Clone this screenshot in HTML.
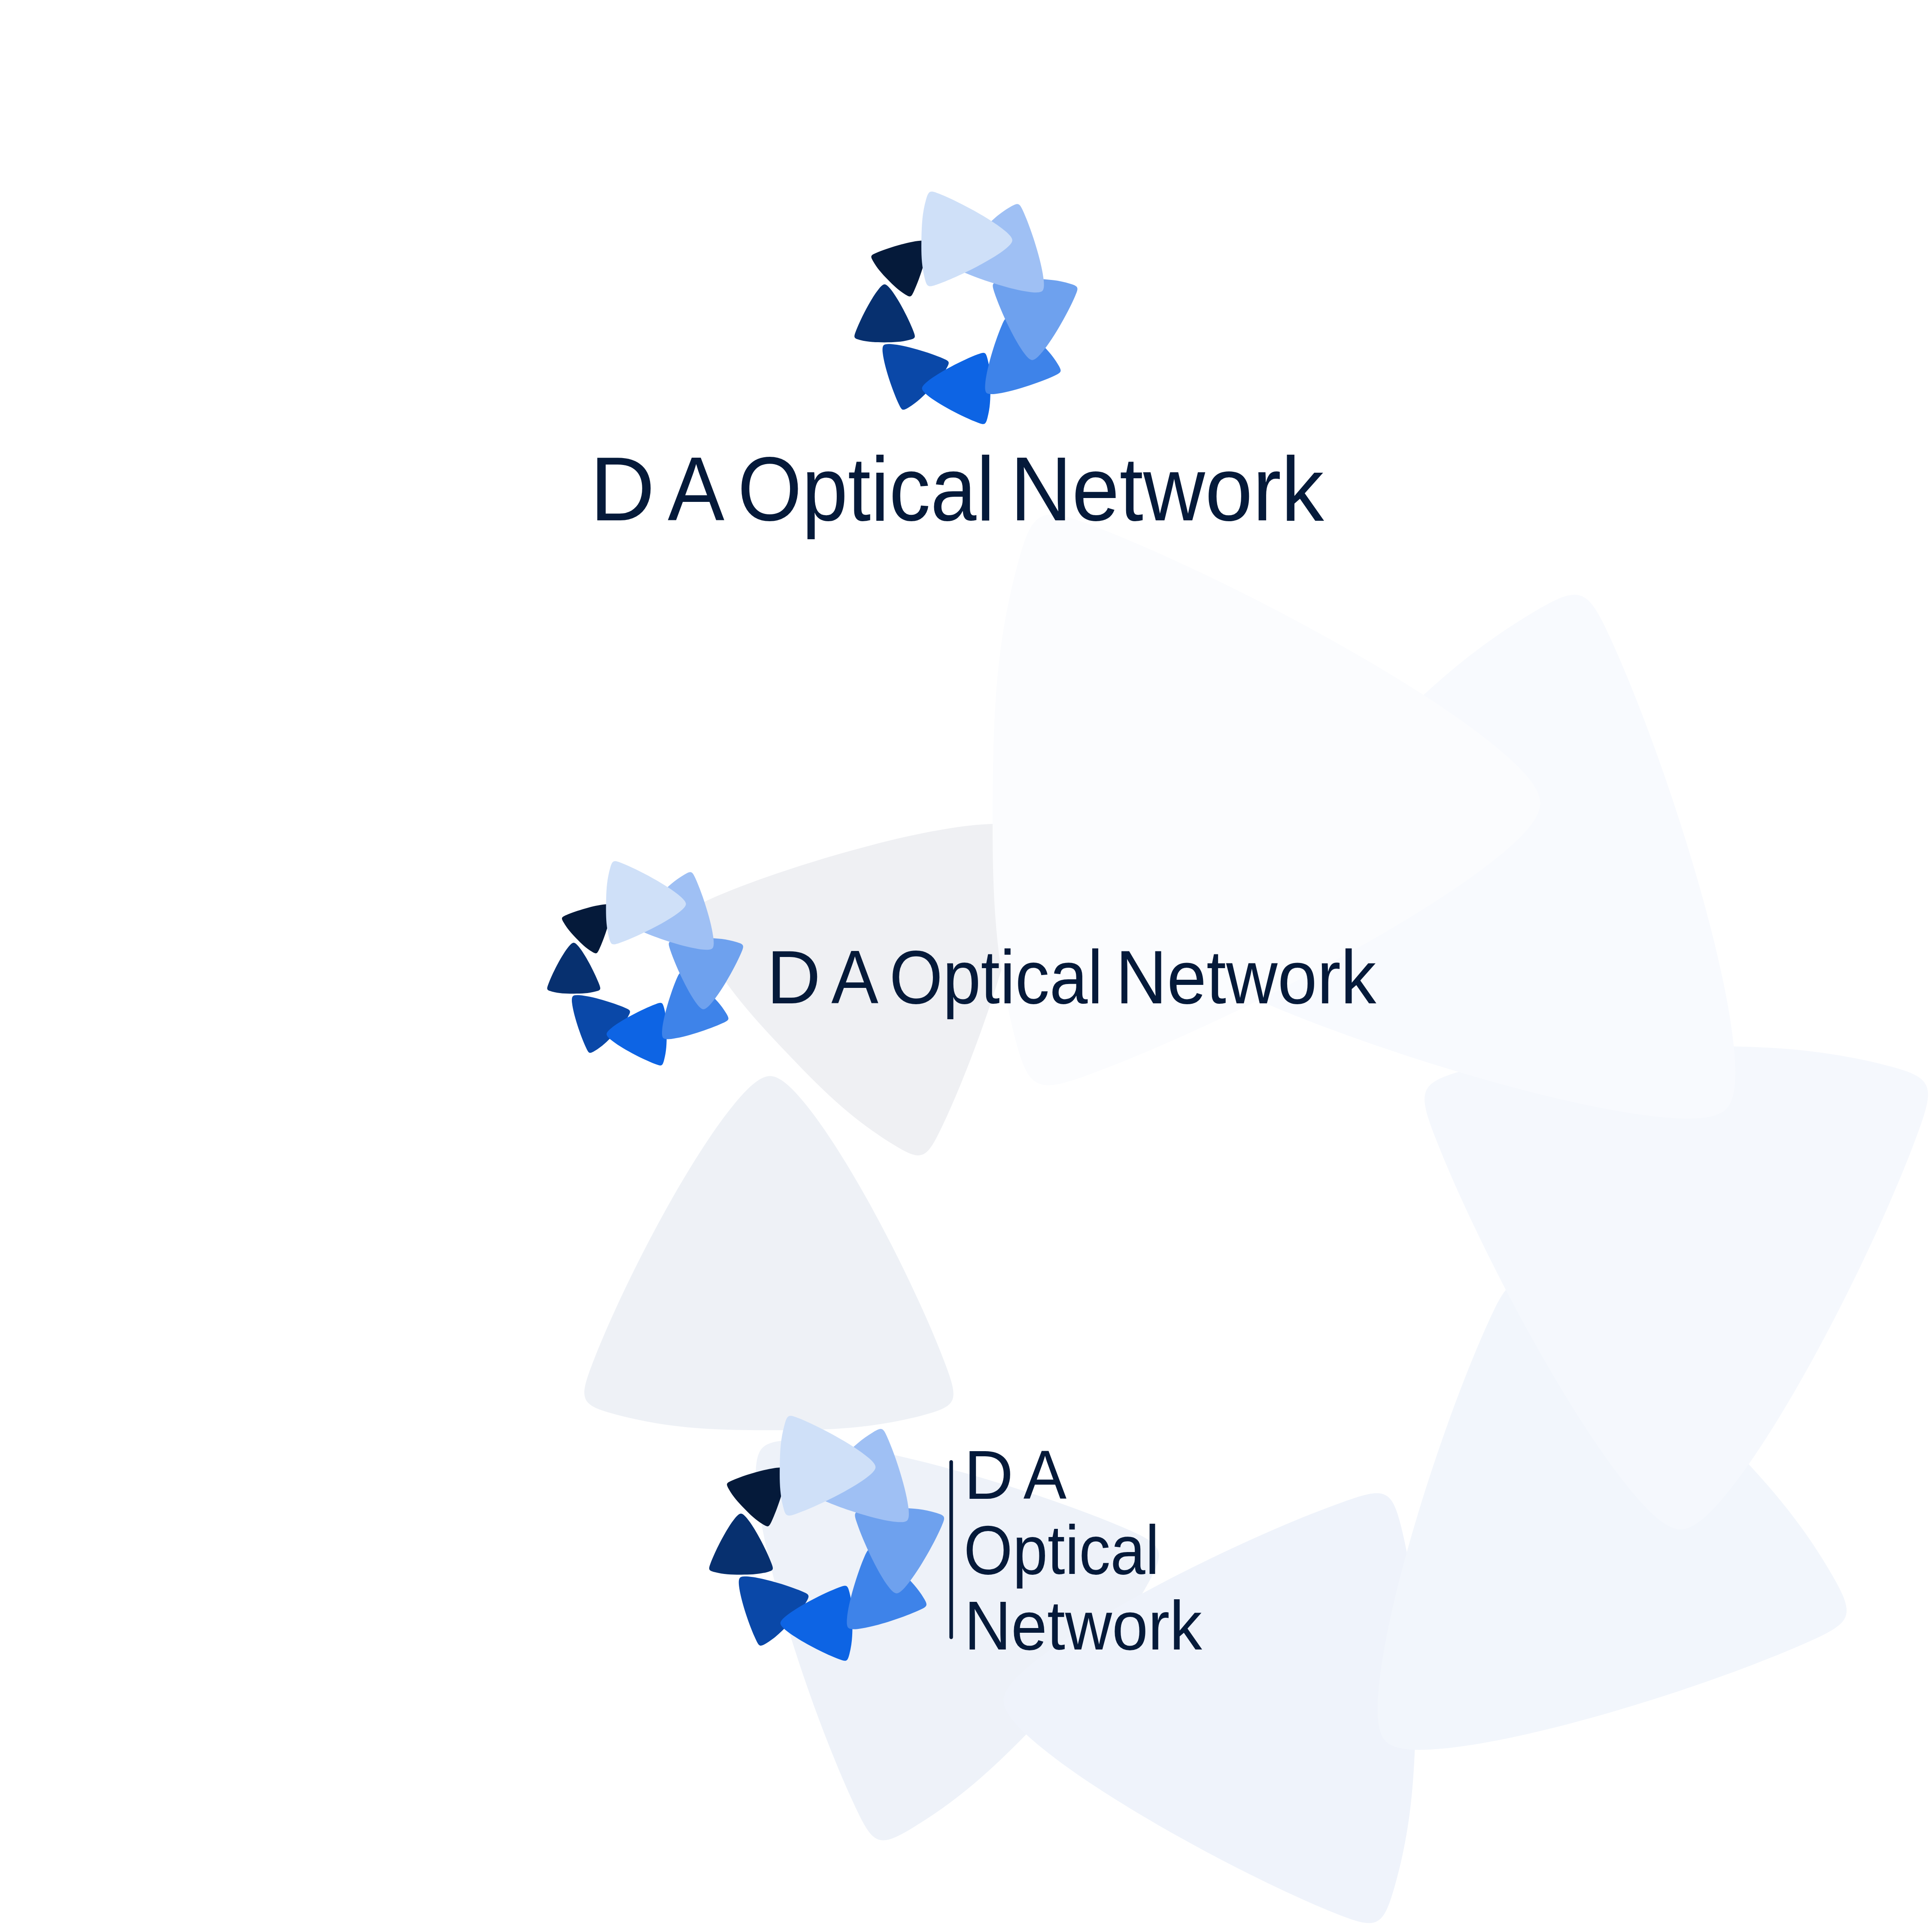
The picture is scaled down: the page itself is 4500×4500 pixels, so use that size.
<!DOCTYPE html><html><head><meta charset="utf-8"><style>html,body{margin:0;padding:0;background:#ffffff;overflow:hidden}svg{display:block}text{font-family:"Liberation Sans",sans-serif;fill:#051a3a}</style></head><body>
<svg width="4500" height="4500" viewBox="0 0 4500 4500">
<defs><path id="tri" d="M0.00000 -0.99907 C-0.04606 -0.99907 -0.10359 -0.94460 -0.16241 -0.87319 C-0.38645 -0.60117 -0.69082 -0.00825 -0.82641 0.34970 C-0.89072 0.51947 -0.88253 0.54335 -0.71320 0.58759 C-0.46680 0.65197 -0.26387 0.65809 0.00000 0.65809 C0.26387 0.65809 0.46680 0.65197 0.71320 0.58759 C0.88253 0.54335 0.89072 0.51947 0.82641 0.34970 C0.69082 -0.00825 0.38645 -0.60117 0.16241 -0.87319 C0.10359 -0.94460 0.04606 -0.99907 -0.00000 -0.99907Z"/><g id="logo"><use href="#tri" fill="#051a3a" transform="translate(2103.387 615.963) rotate(405.926) scale(76.2207)"/>
<use href="#tri" fill="#07306f" transform="translate(2060.442 743.778) rotate(359.932) scale(81.4849)"/>
<use href="#tri" fill="#0a48a8" transform="translate(2122.639 866.483) rotate(313.989) scale(89.7963)"/>
<use href="#tri" fill="#0d64e4" transform="translate(2243.603 904.703) rotate(270.082) scale(96.1396)"/>
<use href="#tri" fill="#3e83e9" transform="translate(2369.762 841.340) rotate(224.398) scale(103.1048)"/>
<use href="#tri" fill="#6ea1ee" transform="translate(2408.716 724.662) rotate(182.328) scale(114.2365)"/>
<use href="#tri" fill="#9fc0f4" transform="translate(2342.876 592.558) rotate(134.977) scale(120.3306)"/>
<use href="#tri" fill="#cfe0f8" transform="translate(2230.278 557.534) rotate(91.032) scale(127.7273)"/></g></defs>
<rect width="4500" height="4500" fill="#ffffff"/>
<use href="#tri" fill="#eff0f3" transform="translate(2048.96 2246.86) rotate(406.410) scale(453.440)"/>
<use href="#tri" fill="#eef1f6" transform="translate(1791.79 3003.66) rotate(360.205) scale(497.780)"/>
<use href="#tri" fill="#eef2f9" transform="translate(2168.76 3751.66) rotate(313.989) scale(546.626)"/>
<use href="#tri" fill="#eff3fb" transform="translate(2916.68 3972.68) rotate(271.221) scale(579.827)"/>
<use href="#tri" fill="#f2f6fc" transform="translate(3680.38 3607.77) rotate(225.284) scale(637.631)"/>
<use href="#tri" fill="#f5f8fd" transform="translate(3907.88 2883.99) rotate(179.391) scale(678.984)"/>
<use href="#tri" fill="#f8fafe" transform="translate(3513.65 2081.74) rotate(134.692) scale(713.837)"/>
<use href="#tri" fill="#fbfcfe" transform="translate(2818.64 1865.70) rotate(90.406) scale(769.578)"/>
<use href="#logo"/>
<use href="#logo" transform="matrix(0.8788 0 0 0.8788 -474.44 1613.70)"/>
<use href="#logo" transform="matrix(1.0536 0 0 1.0536 -444.98 2827.61)"/>
<text x="1374.10" y="1212.30" font-size="211.19" textLength="151.51" lengthAdjust="spacingAndGlyphs">D</text>
<text x="1555.30" y="1212.30" font-size="211.19" textLength="132.09" lengthAdjust="spacingAndGlyphs">A</text>
<text x="1717.95" y="1212.30" font-size="211.19" textLength="599.00" lengthAdjust="spacingAndGlyphs">Optical</text>
<text x="2352.65" y="1212.30" font-size="211.19" textLength="731.05" lengthAdjust="spacingAndGlyphs">Network</text>
<text x="1785.81" y="2336.60" font-size="176.02" textLength="125.83" lengthAdjust="spacingAndGlyphs">D</text>
<text x="1936.31" y="2336.60" font-size="176.02" textLength="109.70" lengthAdjust="spacingAndGlyphs">A</text>
<text x="2071.39" y="2336.60" font-size="176.02" textLength="497.47" lengthAdjust="spacingAndGlyphs">Optical</text>
<text x="2598.51" y="2336.60" font-size="176.02" textLength="607.13" lengthAdjust="spacingAndGlyphs">Network</text>
<text x="2245.32" y="3491.30" font-size="160.61" textLength="115.22" lengthAdjust="spacingAndGlyphs">D</text>
<text x="2383.65" y="3491.30" font-size="160.61" textLength="100.46" lengthAdjust="spacingAndGlyphs">A</text>
<text x="2244.82" y="3666.30" font-size="160.61" textLength="455.43" lengthAdjust="spacingAndGlyphs">Optical</text>
<text x="2246.02" y="3841.90" font-size="160.61" textLength="553.86" lengthAdjust="spacingAndGlyphs">Network</text>
<rect x="2211.3" y="3401" width="8.4" height="416.7" rx="4.2" fill="#051a3a"/>
</svg></body></html>
